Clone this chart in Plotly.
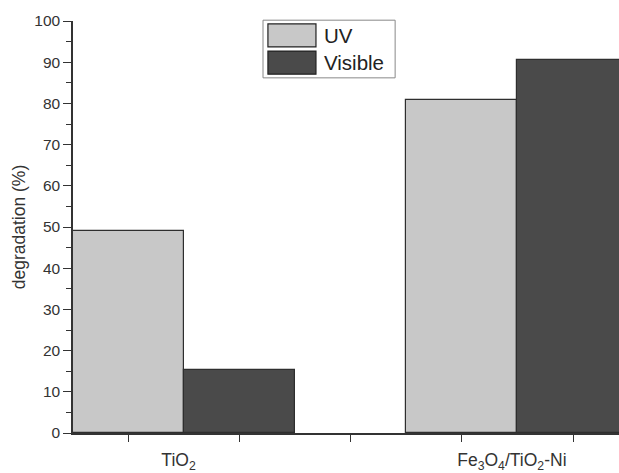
import plotly.graph_objects as go

# Data
categories = ["TiO<sub>2</sub>", "Fe<sub>3</sub>O<sub>4</sub>/TiO<sub>2</sub>-Ni"]
series_names = ["UV", "Visible"]
uv_values = [49.1, 80.8]
visible_values = [15.2, 90.5]
uv_positions = [1, 4]
visible_positions = [2, 5]
slot_ticks = [1, 2, 3, 4, 5]
label_positions = [1.45, 4.45]
y_ticks = [0, 10, 20, 30, 40, 50, 60, 70, 80, 90, 100]

UV_COLOR = "#c8c8c8"
VIS_COLOR = "#4a4a4a"
EDGE = "#2e2e2e"
TXT = "#333333"
FONT = "Liberation Sans, Arial, sans-serif"

fig = go.Figure()
fig.add_trace(go.Bar(x=uv_positions, y=uv_values, name=series_names[0], width=1.0,
                     marker=dict(color=UV_COLOR, line=dict(color=EDGE, width=1.2))))
fig.add_trace(go.Bar(x=visible_positions, y=visible_values, name=series_names[1], width=1.0,
                     marker=dict(color=VIS_COLOR, line=dict(color=EDGE, width=1.2))))
# invisible trace for category labels axis
fig.add_trace(go.Scatter(x=label_positions, y=[0, 0], xaxis="x2", mode="markers",
                         marker=dict(opacity=0), showlegend=False, hoverinfo="skip"))

fig.update_layout(
    width=619, height=473,
    margin=dict(l=73, r=0, t=21, b=40),
    paper_bgcolor="white", plot_bgcolor="white",
    showlegend=False,
    bargap=0,
    font=dict(family=FONT, color=TXT, size=15),
    xaxis=dict(range=[0.5, 5.414], tickvals=slot_ticks, showticklabels=False,
               ticks="outside", ticklen=7, tickwidth=1.2, tickcolor=TXT,
               showline=True, linecolor=TXT, linewidth=1.5, showgrid=False, zeroline=False),
    xaxis2=dict(range=[0.5, 5.414], overlaying="x", anchor="y", side="bottom",
                tickvals=label_positions, ticktext=categories,
                ticks="outside", ticklen=11, tickcolor="rgba(0,0,0,0)",
                tickfont=dict(size=17.5, family=FONT, color=TXT),
                showline=False, showgrid=False, zeroline=False),
    yaxis=dict(range=[0, 100], tickvals=y_ticks, ticks="outside", ticklen=8,
               tickwidth=1.2, tickcolor=TXT,
               minor=dict(dtick=5, ticks="outside", ticklen=5, tickcolor=TXT, tickwidth=1.2),
               tickfont=dict(size=15.5, family=FONT, color=TXT),
               title=dict(text="degradation (%)", font=dict(size=17.5, family=FONT, color=TXT), standoff=4),
               showline=True, linecolor=TXT, linewidth=1.5, showgrid=False, zeroline=False),
)

# Manual legend with large swatches
fig.add_shape(type="rect", xref="paper", yref="paper", x0=0.348, x1=0.590, y0=0.862, y1=1.002,
              line=dict(color="#888888", width=1), fillcolor="white", layer="above")
for name, color, y0, y1, yc in [(series_names[0], UV_COLOR, 0.937, 0.993, 0.965),
                                (series_names[1], VIS_COLOR, 0.871, 0.927, 0.899)]:
    fig.add_shape(type="rect", xref="paper", yref="paper", x0=0.357, x1=0.445, y0=y0, y1=y1,
                  line=dict(color="#222222", width=1.2), fillcolor=color, layer="above")
    fig.add_annotation(xref="paper", yref="paper", x=0.456, y=yc, text=name, showarrow=False,
                       xanchor="left", yanchor="middle",
                       font=dict(size=20.5, family=FONT, color="#222222"))

fig.write_html("out.html")
